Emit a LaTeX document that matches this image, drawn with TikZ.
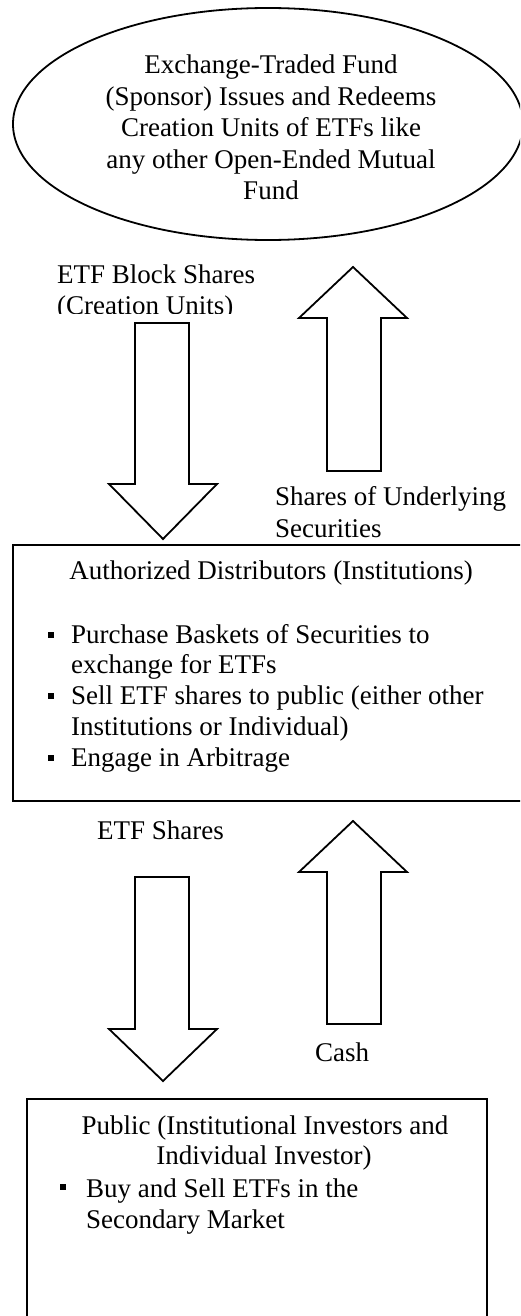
\documentclass[tikz,border=0pt]{standalone}
\usepackage{fontspec}
\setmainfont{Liberation Serif}
\begin{document}
\begin{tikzpicture}[x=1pt,y=-1pt,
  lbl/.style={inner sep=0pt, anchor=base west, font=\fontsize{27}{31}\selectfont},
  ctr/.style={inner sep=0pt, anchor=base, font=\fontsize{27}{31}\selectfont},
  frame/.style={draw, line width=2.2pt},
  blockarrow/.style={draw, line width=1.8pt, line join=miter, fill=white},
  bullet/.style={fill, inner sep=0pt, minimum size=6pt}]
\useasboundingbox (0,0) rectangle (520,1316);
\clip (0,0) rectangle (520,1316);

% Fund sponsor
\draw[line width=1.8pt] (268,124) ellipse [x radius=255pt, y radius=116pt];
\node[ctr] (f1) at (271,74)    {Exchange-Traded Fund};
\node[ctr] (f2) at (271,105.5) {(Sponsor) Issues and Redeems};
\node[ctr] (f3) at (271,137)   {Creation Units of ETFs like};
\node[ctr] (f4) at (271,168.5) {any other Open-Ended Mutual};
\node[ctr] (f5) at (271,200)   {Fund};

% Creation units down, underlying securities up
\node[lbl] (cu1) at (57,283) {ETF Block Shares};
\begin{scope}
  \clip (0,0) rectangle (520,313.5);
  \node[lbl] (cu2) at (57,314.5) {(Creation Units)};
\end{scope}
\draw[blockarrow] (135,323) -- (189,323) -- (189,484) -- (217,484)
  -- (163,539) -- (109,484) -- (135,484) -- cycle;
\draw[blockarrow] (353,267) -- (407,318) -- (381,318) -- (381,471)
  -- (327,471) -- (327,318) -- (299,318) -- cycle;
\node[lbl] (us1) at (275,505) {Shares of Underlying};
\node[lbl] (us2) at (275,537) {Securities};

% Authorized distributors
\draw[frame] (13,545) rectangle (530,801);
\node[ctr] (ad) at (271,579) {Authorized Distributors (Institutions)};
\node[bullet] (b1) at (51,635) {};
\node[lbl] (ad1) at (71,643) {Purchase Baskets of Securities to};
\node[lbl] (ad2) at (71,673) {exchange for ETFs};
\node[bullet] (b2) at (51,696) {};
\node[lbl] (ad3) at (71,704) {Sell ETF shares to public (either other};
\node[lbl] (ad4) at (71,735) {Institutions or Individual)};
\node[bullet] (b3) at (51,758) {};
\node[lbl] (ad5) at (71,766) {Engage in Arbitrage};

% ETF shares down, cash up
\node[lbl] (es) at (97,839) {ETF Shares};
\draw[blockarrow] (135,877) -- (189,877) -- (189,1029) -- (217,1029)
  -- (163,1081) -- (109,1029) -- (135,1029) -- cycle;
\draw[blockarrow] (353,821) -- (407,872) -- (381,872) -- (381,1024)
  -- (327,1024) -- (327,872) -- (299,872) -- cycle;
\node[lbl] (cash) at (315,1061) {Cash};

% Public
\draw[frame] (27,1099) rectangle (487,1340);
\node[ctr] (p1) at (265,1134) {Public (Institutional Investors and};
\node[ctr] (p2) at (264,1164) {Individual Investor)};
\node[bullet] (b4) at (62.5,1187) {};
\node[lbl] (p3) at (86,1197) {Buy and Sell ETFs in the};
\node[lbl] (p4) at (86,1228) {Secondary Market};
\end{tikzpicture}
\end{document}
